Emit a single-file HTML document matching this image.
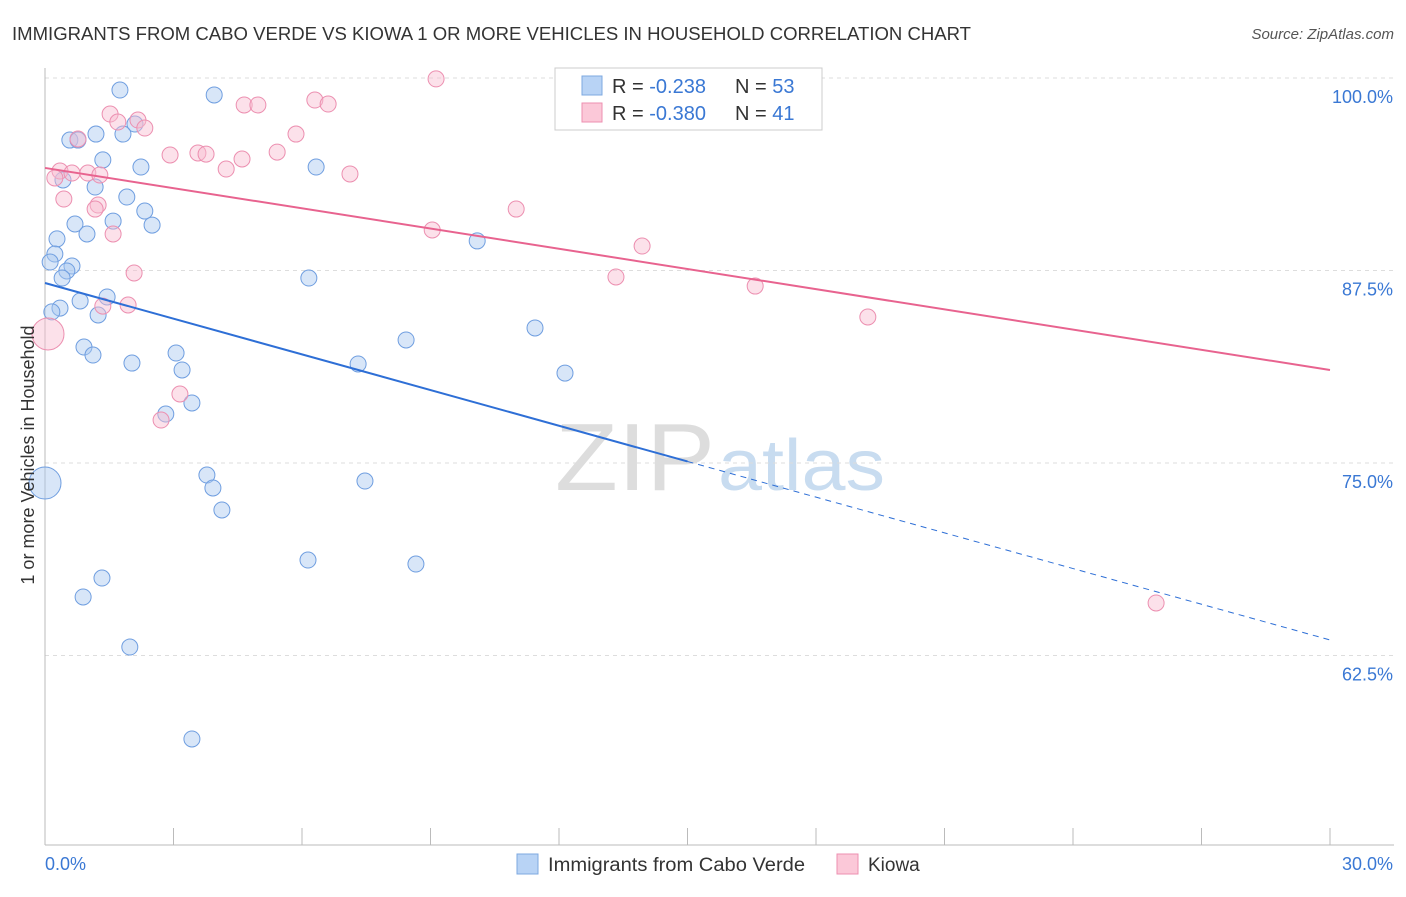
<!DOCTYPE html>
<html><head><meta charset="utf-8"><style>
body{margin:0;background:#fff;font-family:"Liberation Sans",sans-serif;}
svg text{font-family:"Liberation Sans",sans-serif;}
</style></head><body>
<svg width="1406" height="892" xmlns="http://www.w3.org/2000/svg" id="chart">
<text x="12" y="40" font-size="18" fill="#333" textLength="959" lengthAdjust="spacingAndGlyphs">IMMIGRANTS FROM CABO VERDE VS KIOWA 1 OR MORE VEHICLES IN HOUSEHOLD CORRELATION CHART</text>
<text x="1394" y="39" font-size="15" fill="#555" font-style="italic" text-anchor="end">Source: ZipAtlas.com</text>
<text x="555" y="490" font-size="96" fill="#ddd" font-family="Liberation Serif" textLength="160" lengthAdjust="spacingAndGlyphs">ZIP</text>
<text x="718" y="490" font-size="72" fill="#c8dcf0" textLength="167" lengthAdjust="spacingAndGlyphs">atlas</text>
<g id="grid"></g>
<g id="axes"></g>
<g id="marks"></g>
<text transform="translate(34,455) rotate(-90)" font-size="18" fill="#333" text-anchor="middle">1 or more Vehicles in Household</text>
<g>
<rect x="555" y="68" width="267" height="62" fill="#fff" stroke="#ccc"/>
<rect x="582" y="76" width="20" height="19" fill="#b8d3f5" stroke="#7ea8e0"/>
<rect x="582" y="103" width="20" height="19" fill="#fbc8d8" stroke="#ee8fb0"/>
<text x="612" y="93" font-size="20" fill="#333">R = <tspan fill="#3a78d4">-0.238</tspan><tspan x="735">N = </tspan><tspan fill="#3a78d4">53</tspan></text>
<text x="612" y="120" font-size="20" fill="#333">R = <tspan fill="#3a78d4">-0.380</tspan><tspan x="735">N = </tspan><tspan fill="#3a78d4"> 41</tspan></text>
</g>
<g>
<rect x="517" y="854" width="21" height="20" fill="#b8d3f5" stroke="#7ea8e0"/>
<text x="548" y="871" font-size="19" fill="#333" textLength="257" lengthAdjust="spacingAndGlyphs">Immigrants from Cabo Verde</text>
<rect x="837" y="854" width="21" height="20" fill="#fbc8d8" stroke="#ee8fb0"/>
<text x="868" y="871" font-size="19" fill="#333">Kiowa</text>
</g>
</svg>
<script>
const yTicks=[100,87.5,75,62.5];
const yTickLabels=["100.0%","87.5%","75.0%","62.5%"];
const xTickLabels=["0.0%","30.0%"];
const blueX=[1.75,3.95,0.58,0.77,1.19,2.10,1.82,1.35,2.24,6.33,0.42,1.17,1.91,2.33,0.70,1.59,2.50,0.98,0.28,10.09,0.23,0.12,0.63,0.51,0.40,6.16,1.45,0.82,0.35,0.16,1.24,11.44,8.43,0.91,3.06,1.12,2.03,7.31,3.20,12.14,3.43,2.82,3.78,3.92,7.47,0,4.13,6.14,8.66,1.33,0.89,1.98,3.43];
const blueY=[99.22,98.90,95.97,95.97,96.36,97.01,96.36,94.68,94.22,94.22,93.38,92.92,92.27,91.36,90.52,90.71,90.45,89.87,89.55,89.42,88.57,88.05,87.79,87.47,87.01,87.01,85.78,85.52,85.06,84.81,84.61,83.77,82.99,82.53,82.14,82.01,81.49,81.43,81.04,80.84,78.90,78.18,74.22,73.38,73.83,73.70,71.95,68.70,68.44,67.53,66.30,63.05,57.08];
const pinkX=[9.13,6.30,6.61,4.65,4.97,1.52,2.17,1.70,2.33,5.86,0.77,2.92,3.57,3.76,4.60,5.42,4.23,7.12,0.35,0.63,1.00,0.23,1.28,0.44,1.24,1.17,11.00,9.04,1.59,13.94,2.08,13.33,16.58,1.35,1.94,19.21,0.07,3.15,2.71,25.94,16.23];
const pinkY=[99.94,98.57,98.31,98.25,98.25,97.66,97.27,97.14,96.75,96.36,96.04,95.00,95.13,95.06,94.74,95.19,94.09,93.77,93.96,93.83,93.83,93.51,93.70,92.14,91.75,91.49,91.49,90.13,89.87,89.09,87.34,87.08,86.49,85.19,85.26,84.48,83.38,79.48,77.79,65.91,99.87];
const blueLarge=[45];
const pinkLarge=[36];
const blueTrend=[86.69,63.51];
const pinkTrend=[94.16,81.04];
const NS="http://www.w3.org/2000/svg";
function X(v){return 45+v/30*1285;}
function Y(v){return 78+(100-v)/12.5*192.5;}
function mk(tag,attrs,parent){const e=document.createElementNS(NS,tag);for(const k in attrs)e.setAttribute(k,attrs[k]);document.getElementById(parent).appendChild(e);return e;}
yTicks.forEach((t,i)=>{
 const l=mk('line',{x1:45,x2:1394,y1:Y(t),y2:Y(t),stroke:'#ddd','stroke-dasharray':'4,4'},'grid');
 
 
 const tx=mk('text',{x:1393,y:Y(t)+25,'font-size':18,fill:'#3a78d4','text-anchor':'end'},'axes');
 tx.textContent=yTickLabels[i];
 
 
});
const ax=mk('line',{x1:45,x2:45,y1:68,y2:845,stroke:'#bbb'},'axes');


const bx=mk('line',{x1:45,x2:1394,y1:845,y2:845,stroke:'#bbb'},'axes');


for(let i=0;i<=10;i++){
 const t=mk('line',{x1:X(i*3),x2:X(i*3),y1:828,y2:845,stroke:'#bbb'},'axes');
 
 
}
[[0,'start',45],[30,'end',1393]].forEach((d,i)=>{
 const tx=mk('text',{x:d[2],y:870,'font-size':18,fill:'#3a78d4','text-anchor':d[1]},'axes');
 tx.textContent=xTickLabels[i];
 
 
});
function pts(xs,ys,large,fill,stroke,name){
 xs.forEach((x,i)=>{
  const r=large.includes(i)?16:8;
  const c=mk('circle',{cx:X(x),cy:Y(ys[i]),r:r,fill:fill,'fill-opacity':0.45,stroke:stroke,'stroke-width':1},'marks');
  
  
 });
}
pts(blueX,blueY,blueLarge,'#a9c8f0','#6f9ee0','point-cabo-verde');
pts(pinkX,pinkY,pinkLarge,'#f8bcd0','#ec8fb0','point-kiowa');
const bm=blueTrend[0]+(blueTrend[1]-blueTrend[0])*0.5;
const t1=mk('line',{x1:X(0),y1:Y(blueTrend[0]),x2:X(15),y2:Y(bm),stroke:'#2e6fd6','stroke-width':2},'marks');


const t2=mk('line',{x1:X(15),y1:Y(bm),x2:X(30),y2:Y(blueTrend[1]),stroke:'#2e6fd6','stroke-width':1,'stroke-dasharray':'6,5'},'marks');


const t3=mk('line',{x1:X(0),y1:Y(pinkTrend[0]),x2:X(30),y2:Y(pinkTrend[1]),stroke:'#e8638f','stroke-width':2},'marks');


</script>
</body></html>
